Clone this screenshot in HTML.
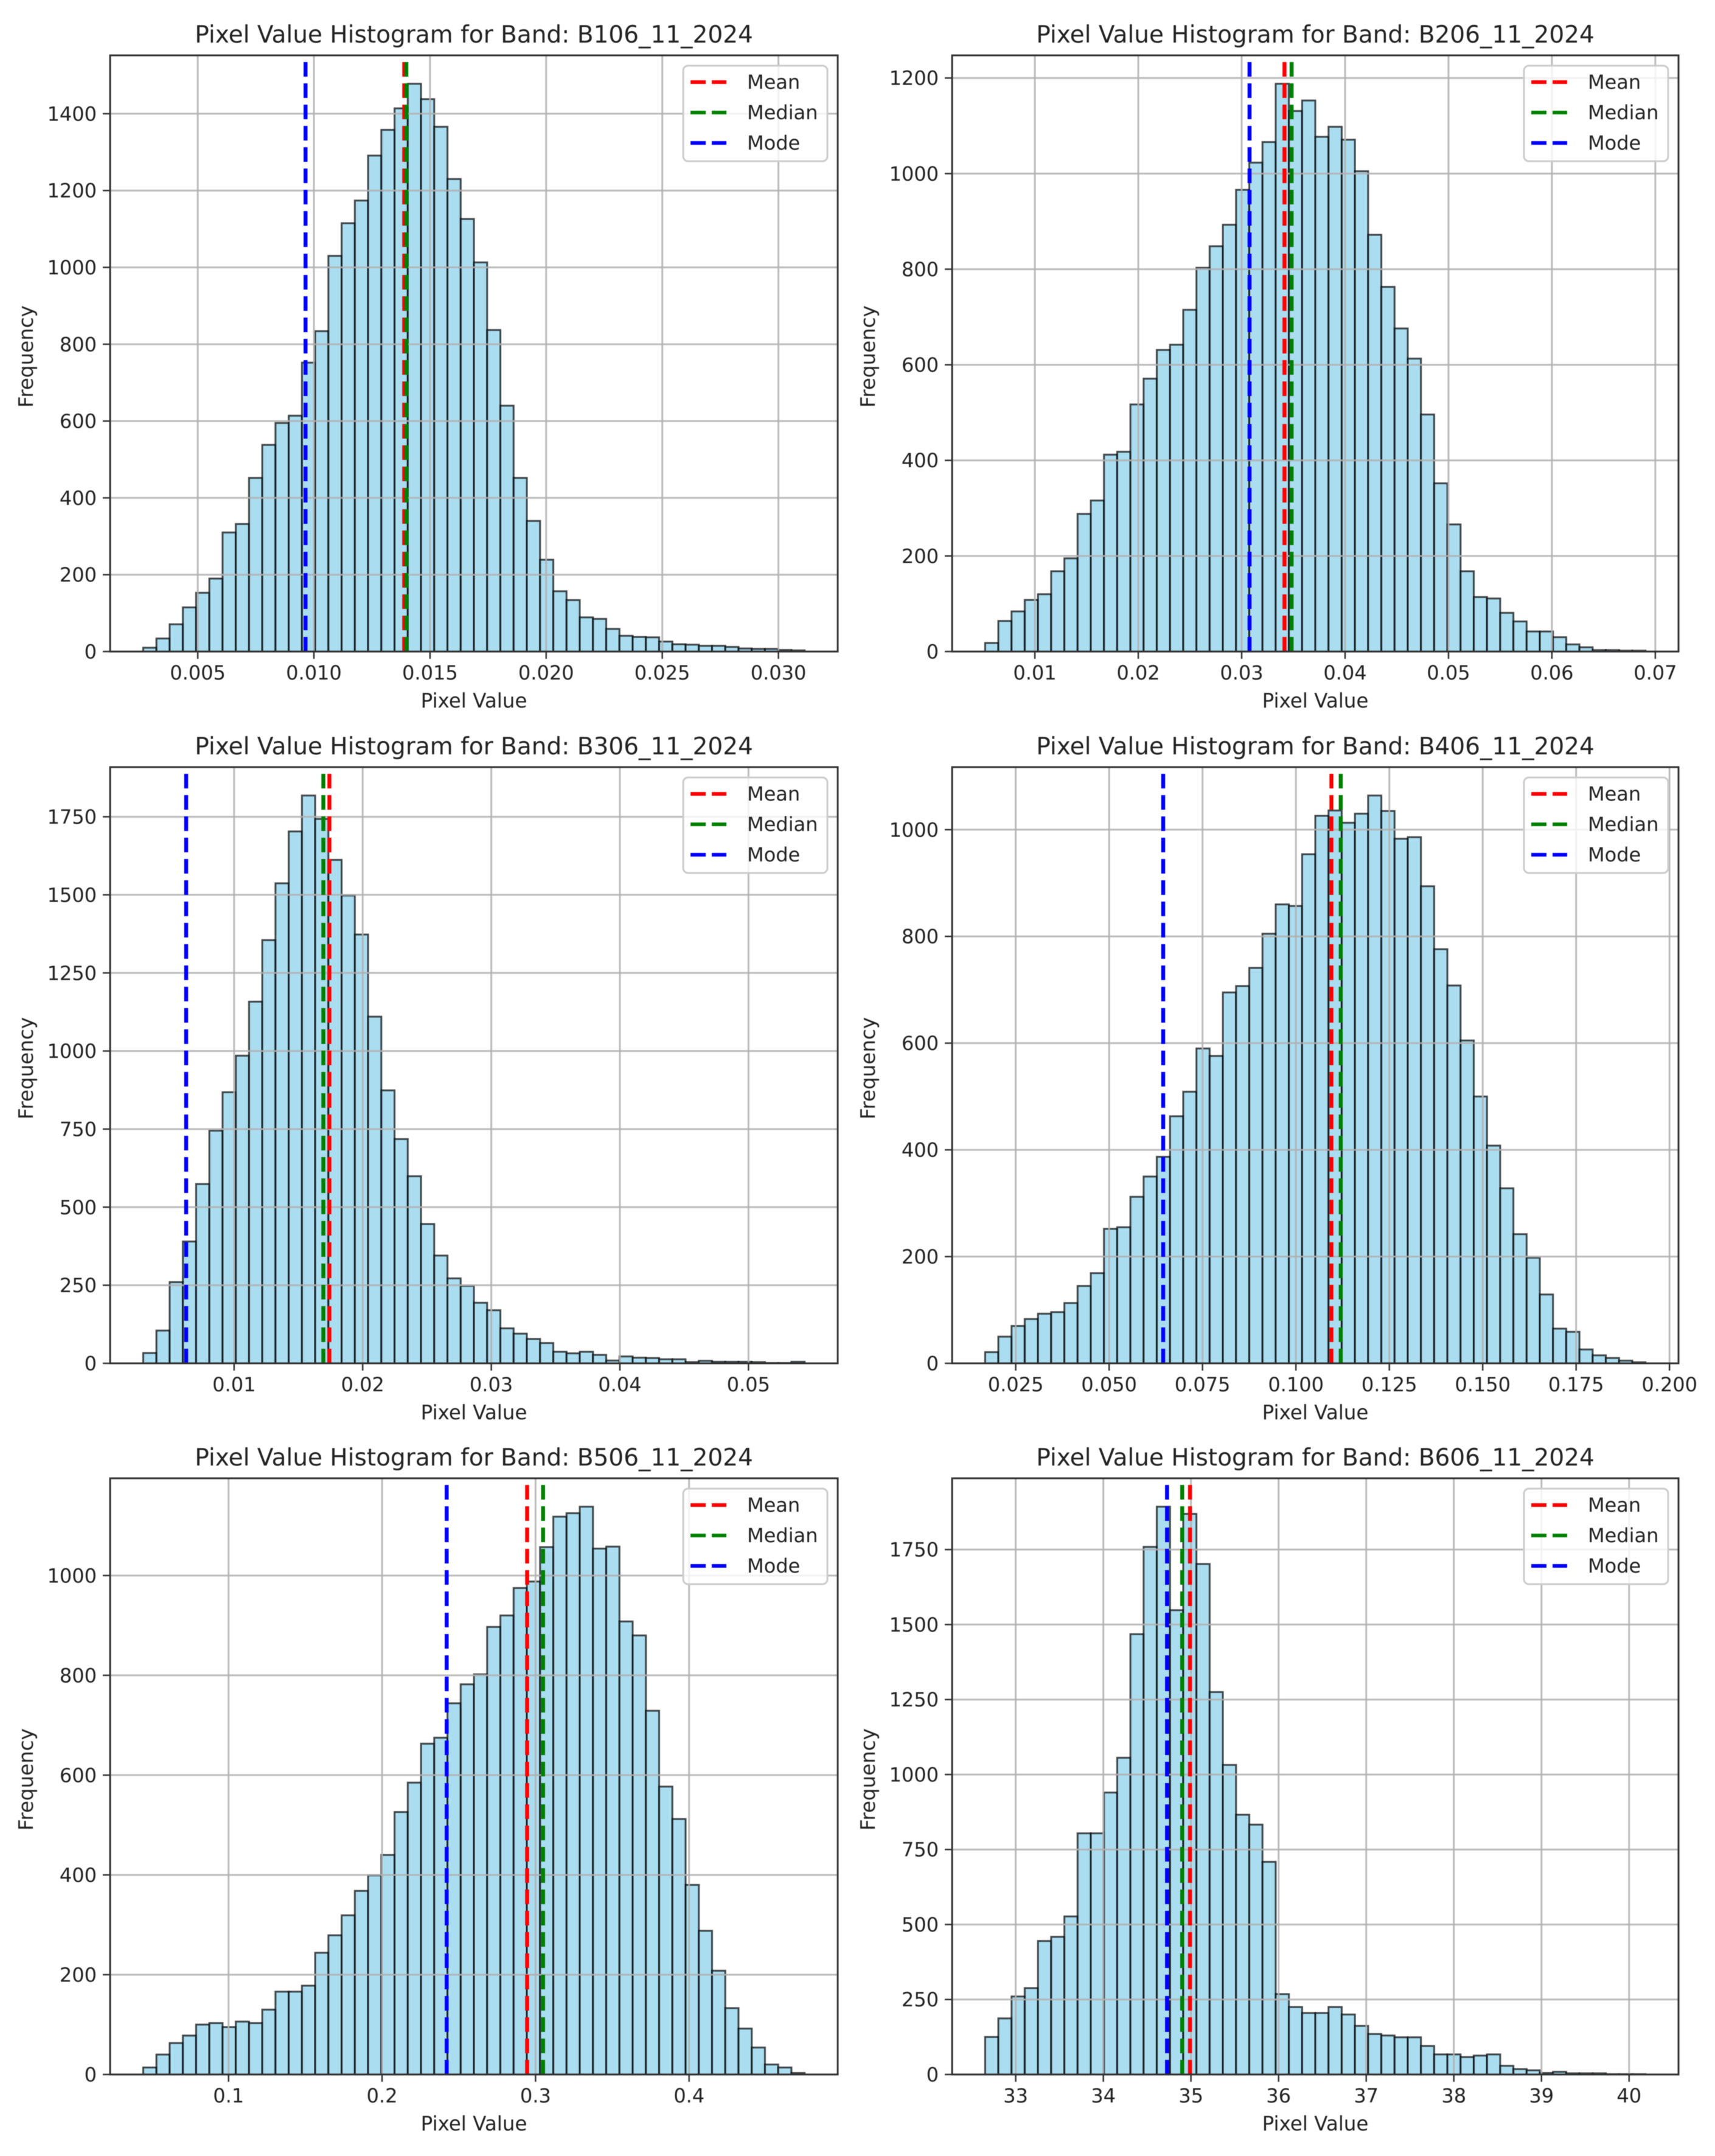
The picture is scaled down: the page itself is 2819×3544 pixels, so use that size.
<!DOCTYPE html>
<html lang="en">
<head>
<meta charset="utf-8">
<title>Pixel Value Histograms</title>
<style>
html,body{margin:0;padding:0;background:#fff;}
svg{display:block;filter:blur(.6px);}
text{font-family:"DejaVu Sans","Liberation Sans",sans-serif;fill:#222;}
.title{font-size:39px;text-anchor:middle;}
.axis-label{font-size:32.5px;text-anchor:middle;}
.legend-text{font-size:32px;dominant-baseline:central;}
.tick{font-size:32px;}
.spines{fill:none;stroke:#333;stroke-width:3;}
.legend-box{fill:#fff;fill-opacity:.8;stroke:#ccc;stroke-width:3;}
.ldash{stroke-width:6;stroke-dasharray:25 10;}
</style>
</head>
<body>
<svg id="figure" xmlns="http://www.w3.org/2000/svg" width="2819" height="3544" viewBox="0 0 2819 3544">
<defs>
<clipPath id="clip-left"><rect x="0" y="0" width="1196" height="980"/></clipPath>
<clipPath id="clip-right"><rect x="0" y="0" width="1194" height="980"/></clipPath>
</defs>
<rect width="2819" height="3544" fill="#fff"/>

<g id="band1" transform="translate(181,91)">
<text class="title" x="598" y="-21">Pixel Value Histogram for Band: B106_11_2024</text>
<g class="plot" clip-path="url(#clip-left)"></g>
<rect class="spines" width="1196" height="980"/>
<g class="axes"></g>
<text class="axis-label" x="598" y="1072">Pixel Value</text>
<text class="axis-label" transform="translate(-127,495) rotate(-90)">Frequency</text>
<g transform="translate(942,17)">
<rect class="legend-box" width="237" height="157" rx="8"/>
<line class="ldash" x1="12" x2="71" y1="27" y2="27" stroke="#f00"/>
<text class="legend-text" x="105" y="27">Mean</text>
<line class="ldash" x1="12" x2="71" y1="77" y2="77" stroke="#008000"/>
<text class="legend-text" x="105" y="77">Median</text>
<line class="ldash" x1="12" x2="71" y1="127" y2="127" stroke="#00f"/>
<text class="legend-text" x="105" y="127">Mode</text>
</g>
</g>

<g id="band2" transform="translate(1565,91)">
<text class="title" x="597" y="-21">Pixel Value Histogram for Band: B206_11_2024</text>
<g class="plot" clip-path="url(#clip-right)"></g>
<rect class="spines" width="1194" height="980"/>
<g class="axes"></g>
<text class="axis-label" x="597" y="1072">Pixel Value</text>
<text class="axis-label" transform="translate(-127,495) rotate(-90)">Frequency</text>
<g transform="translate(940,17)">
<rect class="legend-box" width="237" height="157" rx="8"/>
<line class="ldash" x1="12" x2="71" y1="27" y2="27" stroke="#f00"/>
<text class="legend-text" x="105" y="27">Mean</text>
<line class="ldash" x1="12" x2="71" y1="77" y2="77" stroke="#008000"/>
<text class="legend-text" x="105" y="77">Median</text>
<line class="ldash" x1="12" x2="71" y1="127" y2="127" stroke="#00f"/>
<text class="legend-text" x="105" y="127">Mode</text>
</g>
</g>

<g id="band3" transform="translate(181,1261)">
<text class="title" x="598" y="-21">Pixel Value Histogram for Band: B306_11_2024</text>
<g class="plot" clip-path="url(#clip-left)"></g>
<rect class="spines" width="1196" height="980"/>
<g class="axes"></g>
<text class="axis-label" x="598" y="1072">Pixel Value</text>
<text class="axis-label" transform="translate(-127,495) rotate(-90)">Frequency</text>
<g transform="translate(942,17)">
<rect class="legend-box" width="237" height="157" rx="8"/>
<line class="ldash" x1="12" x2="71" y1="27" y2="27" stroke="#f00"/>
<text class="legend-text" x="105" y="27">Mean</text>
<line class="ldash" x1="12" x2="71" y1="77" y2="77" stroke="#008000"/>
<text class="legend-text" x="105" y="77">Median</text>
<line class="ldash" x1="12" x2="71" y1="127" y2="127" stroke="#00f"/>
<text class="legend-text" x="105" y="127">Mode</text>
</g>
</g>

<g id="band4" transform="translate(1565,1261)">
<text class="title" x="597" y="-21">Pixel Value Histogram for Band: B406_11_2024</text>
<g class="plot" clip-path="url(#clip-right)"></g>
<rect class="spines" width="1194" height="980"/>
<g class="axes"></g>
<text class="axis-label" x="597" y="1072">Pixel Value</text>
<text class="axis-label" transform="translate(-127,495) rotate(-90)">Frequency</text>
<g transform="translate(940,17)">
<rect class="legend-box" width="237" height="157" rx="8"/>
<line class="ldash" x1="12" x2="71" y1="27" y2="27" stroke="#f00"/>
<text class="legend-text" x="105" y="27">Mean</text>
<line class="ldash" x1="12" x2="71" y1="77" y2="77" stroke="#008000"/>
<text class="legend-text" x="105" y="77">Median</text>
<line class="ldash" x1="12" x2="71" y1="127" y2="127" stroke="#00f"/>
<text class="legend-text" x="105" y="127">Mode</text>
</g>
</g>

<g id="band5" transform="translate(181,2430)">
<text class="title" x="598" y="-21">Pixel Value Histogram for Band: B506_11_2024</text>
<g class="plot" clip-path="url(#clip-left)"></g>
<rect class="spines" width="1196" height="980"/>
<g class="axes"></g>
<text class="axis-label" x="598" y="1072">Pixel Value</text>
<text class="axis-label" transform="translate(-127,495) rotate(-90)">Frequency</text>
<g transform="translate(942,17)">
<rect class="legend-box" width="237" height="157" rx="8"/>
<line class="ldash" x1="12" x2="71" y1="27" y2="27" stroke="#f00"/>
<text class="legend-text" x="105" y="27">Mean</text>
<line class="ldash" x1="12" x2="71" y1="77" y2="77" stroke="#008000"/>
<text class="legend-text" x="105" y="77">Median</text>
<line class="ldash" x1="12" x2="71" y1="127" y2="127" stroke="#00f"/>
<text class="legend-text" x="105" y="127">Mode</text>
</g>
</g>

<g id="band6" transform="translate(1565,2430)">
<text class="title" x="597" y="-21">Pixel Value Histogram for Band: B606_11_2024</text>
<g class="plot" clip-path="url(#clip-right)"></g>
<rect class="spines" width="1194" height="980"/>
<g class="axes"></g>
<text class="axis-label" x="597" y="1072">Pixel Value</text>
<text class="axis-label" transform="translate(-127,495) rotate(-90)">Frequency</text>
<g transform="translate(940,17)">
<rect class="legend-box" width="237" height="157" rx="8"/>
<line class="ldash" x1="12" x2="71" y1="27" y2="27" stroke="#f00"/>
<text class="legend-text" x="105" y="27">Mean</text>
<line class="ldash" x1="12" x2="71" y1="77" y2="77" stroke="#008000"/>
<text class="legend-text" x="105" y="77">Median</text>
<line class="ldash" x1="12" x2="71" y1="127" y2="127" stroke="#00f"/>
<text class="legend-text" x="105" y="127">Mode</text>
</g>
</g>
</svg>

<script>
const band1Counts = [10,34,71,115,153,190,310,332,452,538,595,614,752,834,1030,1115,1174,1291,1358,1414,1478,1438,1366,1230,1126,1013,837,640,452,340,239,157,134,89,85,59,41,38,37,26,19,18,15,15,12,8,7,7,4,3];
const band1BinRange = [0.00265,0.03113];
const band1Stats = [0.01389,0.01398,0.00964];
const band1XTicks = ["0.005","0.010","0.015","0.020","0.025","0.030"];
const band1YTicks = ["0","200","400","600","800","1000","1200","1400"];

const band2Counts = [18,64,84,108,120,168,195,288,316,412,418,517,571,631,642,715,803,848,893,966,1023,1066,1188,1131,1153,1077,1098,1071,1005,872,763,676,613,496,352,266,168,114,111,81,63,42,42,30,15,9,3,3,2,2];
const band2BinRange = [0.00519,0.06905];
const band2Stats = [0.03414,0.03483,0.03076];
const band2XTicks = ["0.01","0.02","0.03","0.04","0.05","0.06","0.07"];
const band2YTicks = ["0","200","400","600","800","1000","1200"];

const band3Counts = [33,105,260,390,574,745,868,985,1158,1355,1537,1703,1818,1743,1612,1498,1373,1110,874,718,599,446,345,272,248,194,170,112,95,78,65,37,32,37,27,9,22,18,17,13,13,4,8,5,5,5,4,1,1,5];
const band3BinRange = [0.00293,0.05437];
const band3Stats = [0.01741,0.01694,0.00627];
const band3XTicks = ["0.01","0.02","0.03","0.04","0.05"];
const band3YTicks = ["0","250","500","750","1000","1250","1500","1750"];

const band4Counts = [21,50,70,83,93,96,113,145,169,252,255,312,350,387,463,509,590,576,695,707,741,805,860,857,954,1026,1036,1013,1030,1064,1035,983,986,894,776,708,605,500,408,328,242,198,129,65,59,26,15,10,5,2];
const band4BinRange = [0.01681,0.19357];
const band4Stats = [0.1095,0.112,0.06447];
const band4XTicks = ["0.025","0.050","0.075","0.100","0.125","0.150","0.175","0.200"];
const band4YTicks = ["0","200","400","600","800","1000"];

const band5Counts = [14,40,63,78,100,103,95,106,103,130,166,166,178,244,279,319,368,399,440,526,585,663,675,744,782,802,897,920,975,988,1057,1118,1125,1138,1054,1058,908,880,729,577,512,380,288,208,133,92,54,20,14,3];
const band5BinRange = [0.0444,0.4753];
const band5Stats = [0.2945,0.3049,0.2421];
const band5XTicks = ["0.1","0.2","0.3","0.4"];
const band5YTicks = ["0","200","400","600","800","1000"];

const band6Counts = [125,187,260,288,445,459,527,804,804,940,1056,1468,1759,1893,1548,1869,1702,1275,1032,866,833,709,268,225,205,205,225,200,162,135,130,124,124,95,67,67,58,63,67,29,18,14,5,9,4,4,4,1,1,1];
const band6BinRange = [32.651,40.187];
const band6Stats = [34.989,34.9,34.727];
const band6XTicks = ["33","34","35","36","37","38","39","40"];
const band6YTicks = ["0","250","500","750","1000","1250","1500","1750"];

const NS = 'http://www.w3.org/2000/svg';
const AXES_HEIGHT = 980;
const STAT_NAMES = ['mean-line','median-line','mode-line'];
const STAT_COLORS = ['#f00','#008000','#00f'];

function make(tag, parent, attrs) {
  const node = document.createElementNS(NS, tag);
  for (const k in attrs) node.setAttribute(k, attrs[k]);
  parent.appendChild(node);
  return node;
}

function drawPanel(id, width, counts, binRange, stats, xTicks, yTicks) {
  const root = document.getElementById(id);
  const plot = root.querySelector('.plot');
  const axes = root.querySelector('.axes');
  const span = binRange[1] - binRange[0];
  const xMin = binRange[0] - span * 0.05;
  const xMax = binRange[1] + span * 0.05;
  const yMax = Math.max.apply(null, counts) * 1.05;
  const xScale = v => (v - xMin) / (xMax - xMin) * width;
  const yScale = v => AXES_HEIGHT - v / yMax * AXES_HEIGHT;

  const binWidth = span / counts.length;
  counts.forEach((count, i) => {
    const x0 = xScale(binRange[0] + i * binWidth);
    const x1 = xScale(binRange[0] + (i + 1) * binWidth);
    const y = yScale(count);
    const bar = make('rect', plot, {x:x0, y:y, width:x1 - x0, height:AXES_HEIGHT - y, fill:'#87ceeb', 'fill-opacity':.7, stroke:'#000', 'stroke-opacity':.7, 'stroke-width':3});
    
    
  });

  xTicks.forEach(label => {
    const x = xScale(Number(label));
    const grid = make('line', plot, {x1:x, x2:x, y1:0, y2:AXES_HEIGHT, stroke:'#b0b0b0', 'stroke-width':3, 'stroke-opacity':.85});
    
    
    const tick = make('line', axes, {x1:x, x2:x, y1:AXES_HEIGHT, y2:AXES_HEIGHT + 12, stroke:'#333', 'stroke-width':2.5});
    
    
    const text = make('text', axes, {class:'tick', x:x, y:AXES_HEIGHT + 46, 'text-anchor':'middle'});
    text.textContent = label;
    
    
  });

  yTicks.forEach(label => {
    const y = yScale(Number(label));
    const grid = make('line', plot, {x1:0, x2:width, y1:y, y2:y, stroke:'#b0b0b0', 'stroke-width':3, 'stroke-opacity':.85});
    
    
    const tick = make('line', axes, {x1:-12, x2:0, y1:y, y2:y, stroke:'#333', 'stroke-width':2.5});
    
    
    const text = make('text', axes, {class:'tick', x:-22, y:y + 11.5, 'text-anchor':'end'});
    text.textContent = label;
    
    
  });

  stats.forEach((value, i) => {
    const x = xScale(value);
    const line = make('line', plot, {x1:x, x2:x, y1:AXES_HEIGHT, y2:0, stroke:STAT_COLORS[i], 'stroke-width':6.5, 'stroke-dasharray':'24 11'});
    
    
  });
}

drawPanel('band1', 1196, band1Counts, band1BinRange, band1Stats, band1XTicks, band1YTicks);
drawPanel('band2', 1194, band2Counts, band2BinRange, band2Stats, band2XTicks, band2YTicks);
drawPanel('band3', 1196, band3Counts, band3BinRange, band3Stats, band3XTicks, band3YTicks);
drawPanel('band4', 1194, band4Counts, band4BinRange, band4Stats, band4XTicks, band4YTicks);
drawPanel('band5', 1196, band5Counts, band5BinRange, band5Stats, band5XTicks, band5YTicks);
drawPanel('band6', 1194, band6Counts, band6BinRange, band6Stats, band6XTicks, band6YTicks);
</script>
</body>
</html>
